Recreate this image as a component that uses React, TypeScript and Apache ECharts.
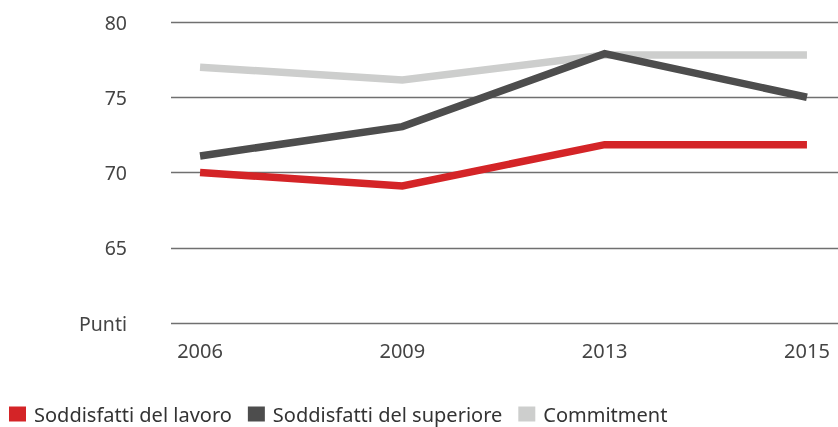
import React, { useEffect, useRef } from "react";
import * as echarts from "echarts";

const categories = ["2006", "2009", "2013", "2015"];
const lavoro = [70, 69.1, 71.85, 71.85];
const superiore = [71.1, 73.05, 77.9, 75];
const commitment = [77, 76.15, 77.8, 77.8];
const yTicks = [60, 65, 70, 75, 80];
const seriesNames = ["Soddisfatti del lavoro", "Soddisfatti del superiore", "Commitment"];
const colors = ["#d42427", "#4d4d4d", "#cdcecd"];

export default function App() {
  const ref = useRef<HTMLDivElement>(null);
  useEffect(() => {
    if (!ref.current) return;
    const chart = echarts.init(ref.current, null, { renderer: "svg" });
    const font = "'Noto Sans', sans-serif";
    const toPts = (arr: number[]) => arr.map((v, i) => [i, v]);
    const datasets = [lavoro, superiore, commitment];
    chart.setOption({
      animation: false,
      textStyle: { fontFamily: font },
      grid: { left: 171, right: 0, top: 22, bottom: 104 },
      xAxis: {
        type: "value",
        min: -29 / 202,
        max: 3 + 31 / 202,
        axisLine: { show: false },
        axisTick: { show: false },
        splitLine: { show: false },
        axisLabel: {
          customValues: [0, 1, 2, 3],
          formatter: (v: number) => categories[Math.round(v)] ?? "",
          color: "#444",
          fontSize: 20,
          fontFamily: font,
          margin: 17,
          showMinLabel: true,
          showMaxLabel: true,
        },
      },
      yAxis: {
        type: "value",
        min: yTicks[0],
        max: yTicks[yTicks.length - 1],
        interval: 5,
        axisLine: { show: false },
        axisTick: { show: false },
        splitLine: { show: true, lineStyle: { color: "#707070", width: 1.3 } },
        axisLabel: {
          color: "#444",
          fontSize: 19.5,
          fontFamily: font,
          margin: 44,
          formatter: (v: number) => (v === yTicks[0] ? "Punti" : String(v)),
        },
      },
      legend: {
        left: 4,
        bottom: 3,
        padding: [0, 5, 0, 5],
        itemWidth: 17,
        itemHeight: 15,
        itemGap: 16,
        icon: "rect",
        textStyle: { color: "#333", fontSize: 20, fontFamily: font, padding: [0, 0, 0, 3], lineHeight: 20 },
        data: seriesNames,
      },
      series: datasets.map((d, i) => ({
        name: seriesNames[i],
        type: "line",
        data: toPts(d),
        symbol: "none",
        lineStyle: { color: colors[i], width: 7.5, cap: "butt", join: "miter" },
        itemStyle: { color: colors[i] },
        z: 3 - i,
      })),
    });
    return () => chart.dispose();
  }, []);
  return (
    <div
      ref={ref}
      style={{ position: "fixed", left: 0, top: 0, width: 838, height: 427 }}
    />
  );
}
